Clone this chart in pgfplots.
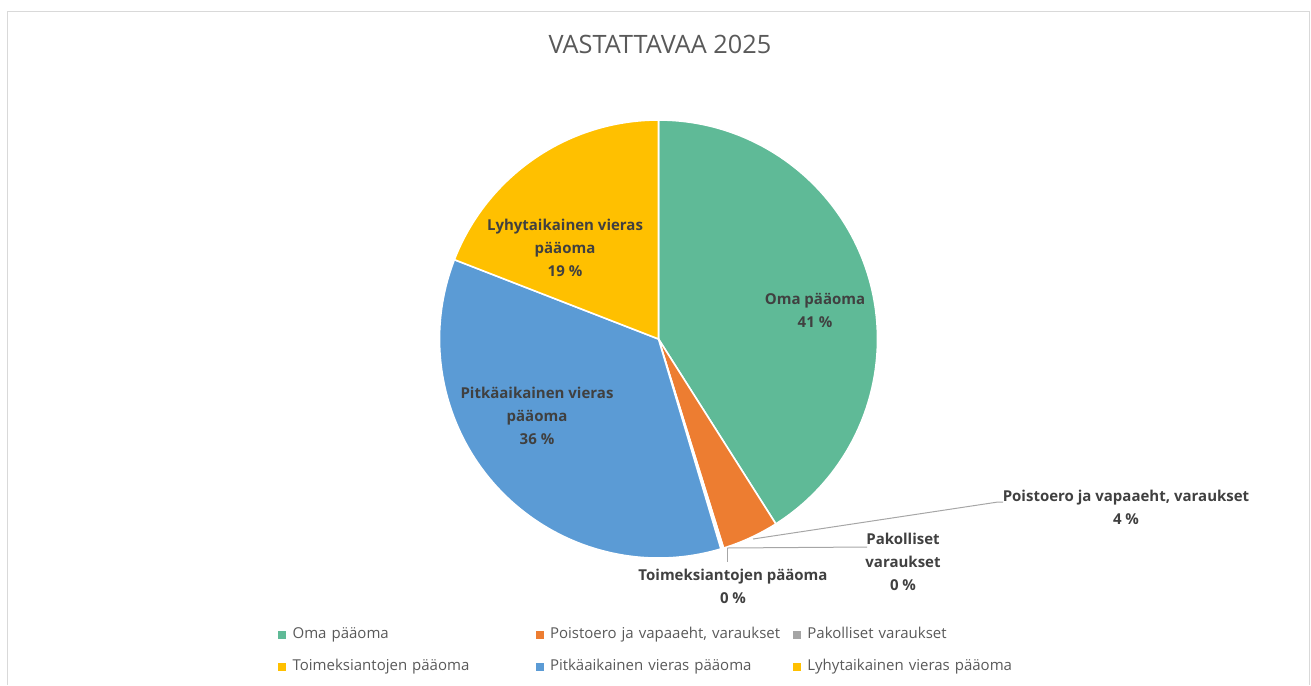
\documentclass[border=0pt]{standalone}
\usepackage{pgfplots}
\pgfplotsset{compat=1.18}
\usepackage{pgfplotstable}
\usepackage{fontspec}
\setmainfont{Open Sans}
\definecolor{cgreen}{HTML}{5FBA97}
\definecolor{corange}{HTML}{ED7D31}
\definecolor{cgray}{HTML}{A5A5A5}
\definecolor{cyellow}{HTML}{FFC000}
\definecolor{cblue}{HTML}{5B9BD5}
\definecolor{labcol}{HTML}{404040}
\definecolor{txtgray}{HTML}{595959}
\definecolor{leadcol}{HTML}{A6A6A6}
\definecolor{bordercol}{HTML}{D9D9D9}

% share of each item, percent (Excel pie: start at 12 o'clock, clockwise)
\pgfplotstableread{
label value color
Oma 41.0 cgreen
Poistoero 4.2 corange
Pakolliset 0.1 cgray
Toimeksiantojen 0.1 cyellow
Pitkaaikainen 35.5 cblue
Lyhytaikainen 19.1 cyellow
}\piedata

\begin{document}
\begin{tikzpicture}
\begin{axis}[
  at={(0,0)}, anchor=south west,
  width=1311pt, height=685pt, scale only axis,
  xmin=0, xmax=1311, ymin=0, ymax=685, y dir=reverse,
  hide axis, clip=false,
  legend columns=3,
  legend cell align=left,
  legend style={
    at={(axis cs:278,627)}, anchor=north west,
    draw=none, fill=none, inner sep=0pt,
    font=\fontsize{15}{18}\selectfont, text=txtgray,
    nodes={text width=236pt, align=left, inner xsep=7pt, inner ysep=0pt,
           text height=11pt, text depth=4pt},
    row sep=17pt, column sep=0pt,
  },
]
\path (axis cs:0,0) rectangle (axis cs:1311,685);
% chart border
\draw[bordercol, line width=1.2pt] (axis cs:7.5,685) -- (axis cs:7.5,11.5) -- (axis cs:1309.5,11.5) -- (axis cs:1309.5,685);

% pie slices from the table
\def\cum{0}
\pgfplotsforeachungrouped \i in {0,...,5}{%
  \pgfplotstablegetelem{\i}{value}\of\piedata \let\v\pgfplotsretval
  \pgfplotstablegetelem{\i}{color}\of\piedata \let\c\pgfplotsretval
  \pgfmathsetmacro\aS{90-\cum*3.6}%
  \pgfmathsetmacro\cum{\cum+\v}%
  \pgfmathsetmacro\aE{90-\cum*3.6}%
  \edef\tmp{\noexpand\fill[\c, draw=white, line width=1.6pt, line join=round] (axis cs:658.5,339) -- ++(\aS:219pt) arc[start angle=\aS, end angle=\aE, radius=219pt] -- cycle;}%
  \tmp
}

% legend entries
\addlegendimage{legend image code/.code={\fill[cgreen] (0pt,-3.5pt) rectangle (7pt,3.5pt);}}
\addlegendentry{Oma pääoma}
\addlegendimage{legend image code/.code={\fill[corange] (0pt,-3.5pt) rectangle (7pt,3.5pt);}}
\addlegendentry{Poistoero ja vapaaeht, varaukset}
\addlegendimage{legend image code/.code={\fill[cgray] (0pt,-3.5pt) rectangle (7pt,3.5pt);}}
\addlegendentry{Pakolliset varaukset}
\addlegendimage{legend image code/.code={\fill[cyellow] (0pt,-3.5pt) rectangle (7pt,3.5pt);}}
\addlegendentry{Toimeksiantojen pääoma}
\addlegendimage{legend image code/.code={\fill[cblue] (0pt,-3.5pt) rectangle (7pt,3.5pt);}}
\addlegendentry{Pitkäaikainen vieras pääoma}
\addlegendimage{legend image code/.code={\fill[cyellow] (0pt,-3.5pt) rectangle (7pt,3.5pt);}}
\addlegendentry{Lyhytaikainen vieras pääoma}

% title
\node[text=txtgray, font=\fontsize{25.3}{30}\selectfont] at (axis cs:660,44) {VASTATTAVAA 2025};

% leader lines
\draw[leadcol, line width=1pt] (axis cs:753,539) -- (axis cs:998,502) -- (axis cs:1003,502);
\draw[leadcol, line width=1pt] (axis cs:727,548) -- (axis cs:867,547);
\draw[leadcol, line width=1pt] (axis cs:727,548) -- (axis cs:727,562);

% data labels
\tikzset{dl/.style={text=labcol, font=\bfseries\fontsize{15}{23}\selectfont, align=center, inner sep=0pt}}
\node[dl] at (axis cs:815,310) {Oma pääoma\\41 \%};
\node[dl] at (axis cs:565,248) {Lyhytaikainen vieras\\pääoma\\19 \%};
\node[dl] at (axis cs:537,416) {Pitkäaikainen vieras\\pääoma\\36 \%};
\node[dl] at (axis cs:1126,507) {Poistoero ja vapaaeht, varaukset\\4 \%};
\node[dl] at (axis cs:903,562) {Pakolliset\\varaukset\\0 \%};
\node[dl] at (axis cs:733,586) {Toimeksiantojen pääoma\\0 \%};
\end{axis}
\end{tikzpicture}
\end{document}
